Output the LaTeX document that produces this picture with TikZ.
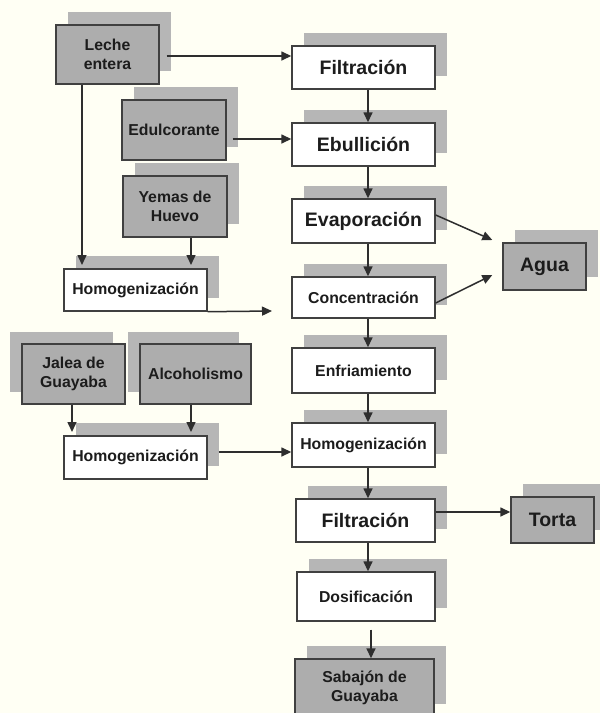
\documentclass[tikz,border=0pt]{standalone}
\usepackage{fontspec}
\setmainfont{Liberation Sans}
\usetikzlibrary{arrows.meta,shadows}
\definecolor{bg}{HTML}{FFFFF4}
\definecolor{bordc}{HTML}{404040}
\definecolor{txtc}{HTML}{1C1C1C}
\definecolor{boxg}{HTML}{ADADAD}
\definecolor{shc}{HTML}{B6B6B6}
\definecolor{arrc}{HTML}{2E2E2E}
\begin{document}
\begin{tikzpicture}[x=1pt,y=-1pt,
  base/.style={draw=bordc, line width=1.4pt, text=txtc, align=center, inner sep=0pt},
  sh/.style={drop shadow={shadow xshift=12pt, shadow yshift=13pt, fill=shc, opacity=1}},
  shl/.style={drop shadow={shadow xshift=-12pt, shadow yshift=12pt, fill=shc, opacity=1}},
  wbox/.style={base, fill=white},
  gbox/.style={base, fill=boxg},
  big/.style={font=\fontsize{19.5}{22}\selectfont\bfseries},
  small/.style={font=\fontsize{15.8}{19.5}\selectfont\bfseries},
  arr/.style={draw=arrc, line width=1.5pt, -{Triangle[length=10pt,width=9pt]}}
]
\useasboundingbox[fill=bg] (0,0) rectangle (600,713);
\coordinate (colx) at (368,0);

% main column
\node[wbox,sh,big,minimum width=143pt,minimum height=43pt] (filt1) at (363.5,67.5) {Filtración};
\node[wbox,sh,big,minimum width=143pt,minimum height=43pt] (ebul) at (363.5,144.5) {Ebullición};
\node[wbox,sh,big,minimum width=143pt,minimum height=44pt] (evap) at (363.5,221) {Evaporación};
\node[wbox,sh,small,minimum width=143pt,minimum height=41pt] (conc) at (363.5,297.5) {Concentración};
\node[wbox,sh,small,minimum width=143pt,minimum height=45pt] (enfr) at (363.5,370.5) {Enfriamiento};
\node[wbox,sh,small,minimum width=143pt,minimum height=44pt] (homr) at (363.5,445) {Homogenización};
\node[wbox,sh,big,minimum width=139pt,minimum height=43pt] (filt2) at (365.5,520.5) {Filtración};
\node[wbox,sh,small,minimum width=138pt,minimum height=49pt] (dosi) at (366,596.5) {Dosificación};
\node[gbox,sh,small,minimum width=139pt,minimum height=58pt] (saba) at (364.5,688) {Sabajón de\\Guayaba};

% right outputs
\node[gbox,sh,big,minimum width=83pt,minimum height=47pt] (agua) at (544.5,266.5) {Agua};
\node[gbox,sh,big,minimum width=83pt,minimum height=46pt] (torta) at (552.5,520) {Torta};

% left inputs
\node[gbox,sh,small,minimum width=103pt,minimum height=59pt] (leche) at (107.5,54.5) {Leche\\entera};
\node[gbox,sh,small,minimum width=104pt,minimum height=60pt] (edul) at (174,130) {Edulcorante};
\node[gbox,sh,small,minimum width=104pt,minimum height=61pt] (yemas) at (175,206.5) {Yemas de\\Huevo};
\node[wbox,sh,small,minimum width=143pt,minimum height=42pt] (homl1) at (135.5,290) {Homogenización};
\node[gbox,shl,small,minimum width=103pt,minimum height=60pt] (jalea) at (73.5,374) {Jalea de\\Guayaba};
\node[gbox,shl,small,minimum width=111pt,minimum height=60pt] (alco) at (195.5,374) {Alcoholismo};
\node[wbox,sh,small,minimum width=143pt,minimum height=43pt] (homl2) at (135.5,457.5) {Homogenización};

% main column arrows
\draw[arr] (filt1.south -| colx) -- (ebul.north -| colx);
\draw[arr] (ebul.south -| colx) -- (evap.north -| colx);
\draw[arr] (evap.south -| colx) -- (conc.north -| colx);
\draw[arr] (conc.south -| colx) -- (enfr.north -| colx);
\draw[arr] (enfr.south -| colx) -- (homr.north -| colx);
\draw[arr] (homr.south -| colx) -- (filt2.north -| colx);
\draw[arr] (filt2.south -| colx) -- (dosi.north -| colx);
\draw[arr] ([xshift=3pt,yshift=-8pt]dosi.south -| colx) -- ([xshift=3pt]saba.north -| colx);

% side arrows
\draw[arr] ([xshift=7pt,yshift=-1.5pt]leche.east) -- ([yshift=-1.5pt]leche.east -| filt1.west);
\draw[arr] ([xshift=6pt,yshift=-9pt]edul.east) -- ([yshift=-9pt]edul.east -| ebul.west);
\draw[arr] ([yshift=6pt]evap.east) -- ([xshift=-10pt,yshift=26.5pt]agua.west);
\draw[arr] ([yshift=-5.5pt]conc.east) -- ([xshift=-10pt,yshift=-8.5pt]agua.west);
\draw[arr] ([yshift=8.5pt]filt2.east) -- ([yshift=8.5pt]filt2.east -| torta.west);
\draw[arr] ([xshift=-25.5pt]leche.south) -- ([xshift=-25.5pt]leche.south |- 0,265);
\draw[arr] ([xshift=16pt]yemas.south) -- ([xshift=16pt]yemas.south |- 0,265);
\coordinate (hend) at (272,311);
\draw[arr] (homl1.south east) -- (hend);
\draw[arr] ([xshift=-1.5pt]jalea.south) -- ([xshift=-1.5pt]jalea.south |- 0,432);
\draw[arr] ([xshift=-4.5pt]alco.south) -- ([xshift=-4.5pt]alco.south |- 0,432);
\draw[arr] ([xshift=11pt,yshift=5.5pt]homl2.east) -- ([yshift=5.5pt]homl2.east -| homr.west);
\end{tikzpicture}
\end{document}
